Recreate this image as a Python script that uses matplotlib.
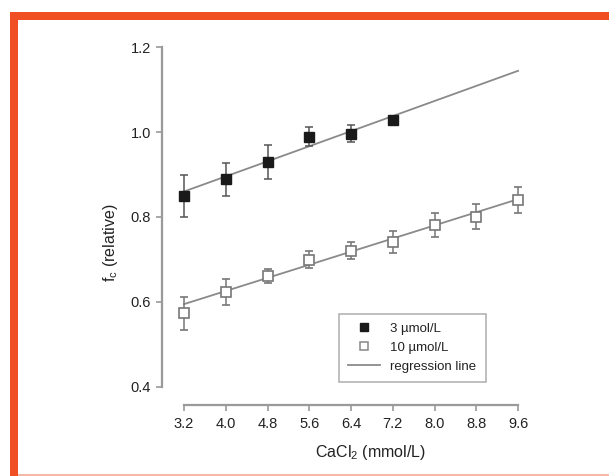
import matplotlib
matplotlib.use("Agg")
import matplotlib.pyplot as plt
from matplotlib.patches import Rectangle
from matplotlib.lines import Line2D

plt.rcParams['font.family'] = ['Liberation Sans', 'DejaVu Sans']

# Data
cacl2 = [3.2, 4.0, 4.8, 5.6, 6.4, 7.2, 8.0, 8.8, 9.6]
x_3 = [3.2, 4.0, 4.8, 5.6, 6.4, 7.2]
fc_3 = [0.85, 0.889, 0.93, 0.989, 0.996, 1.029]
err_3 = [0.05, 0.039, 0.04, 0.022, 0.02, 0.005]
x_10 = [3.2, 4.0, 4.8, 5.6, 6.4, 7.2, 8.0, 8.8, 9.6]
fc_10 = [0.573, 0.623, 0.661, 0.699, 0.720, 0.742, 0.781, 0.801, 0.840]
err_10 = [0.039, 0.03, 0.017, 0.02, 0.02, 0.026, 0.028, 0.03, 0.031]
reg_x = [3.2, 9.6]
reg_3 = [0.860, 1.144]
reg_10 = [0.595, 0.842]
xticks = [3.2, 4.0, 4.8, 5.6, 6.4, 7.2, 8.0, 8.8, 9.6]
xticklabels = ['3.2', '4.0', '4.8', '5.6', '6.4', '7.2', '8.0', '8.8', '9.6']
yticks = [0.4, 0.6, 0.8, 1.0, 1.2]
yticklabels = ['0.4', '0.6', '0.8', '1.0', '1.2']

W, H = 609, 476
fig = plt.figure(figsize=(W / 100, H / 100), dpi=100)
fig.patch.set_facecolor('white')

# Orange frame
orange = '#F04E23'
fig.patches.append(Rectangle((10 / W, 0), 8 / W, (H - 12) / H, transform=fig.transFigure,
                             facecolor=orange, edgecolor='none', zorder=0))
fig.patches.append(Rectangle((10 / W, (H - 20) / H), (W - 10) / W, 8 / H, transform=fig.transFigure,
                             facecolor=orange, edgecolor='none', zorder=0))
fig.patches.append(Rectangle((18 / W, 0), (W - 18) / W, 2 / H, transform=fig.transFigure,
                             facecolor='#F6B9A6', edgecolor='none', zorder=0))

ax = fig.add_axes([162 / W, 71 / H, 378 / W, 365 / H])
ax.set_facecolor('none')
ax.set_xlim(2.778, 10.02)
ax.set_ylim(0.3576, 1.2165)

axcol = '#9a9a9a'
for s in ['top', 'right']:
    ax.spines[s].set_visible(False)
ax.spines['left'].set_bounds(0.4, 1.2)
ax.spines['bottom'].set_bounds(3.2, 9.6)
for s in ['left', 'bottom']:
    ax.spines[s].set_color(axcol)
    ax.spines[s].set_linewidth(1.6)
ax.tick_params(axis='both', colors=axcol, length=4, width=1.2, labelcolor='#222222',
               labelsize=10.5)
ax.tick_params(axis='x', pad=5)
ax.tick_params(axis='y', pad=4)
ax.set_xticks(xticks)
ax.set_xticklabels(xticklabels)
ax.set_yticks(yticks)
ax.set_yticklabels(yticklabels)

linecol = '#8a8a8a'
ax.plot(reg_x, reg_3, color=linecol, lw=1.3, zorder=2)
ax.plot(reg_x, reg_10, color=linecol, lw=1.3, zorder=2)

ax.errorbar(x_3, fc_3, yerr=err_3, fmt='s', color='#1a1a1a', ecolor='#555555',
            ms=7, elinewidth=1.1, capsize=3, capthick=1.1, zorder=3)
ax.errorbar(x_10, fc_10, yerr=err_10, fmt='s', mfc='white', mec='#777777', mew=1.2,
            ecolor='#777777', ms=7, elinewidth=1.1, capsize=3, capthick=1.1, zorder=3)

handles = [
    Line2D([], [], marker='s', ls='none', color='#1a1a1a', ms=6),
    Line2D([], [], marker='s', ls='none', mfc='white', mec='#888888', mew=1.1, ms=6),
    Line2D([], [], color=linecol, lw=1.3),
]
leg = ax.legend(handles, ['3 µmol/L', '10 µmol/L', 'regression line'],
                loc='lower left', bbox_to_anchor=(0.468, 0.063), borderaxespad=0,
                fontsize=9.5, frameon=True, fancybox=False, handlelength=2.4,
                handletextpad=0.8, labelspacing=0.5, borderpad=0.7)
leg.get_frame().set_edgecolor('#999999')
leg.get_frame().set_linewidth(1.1)
for t in leg.get_texts():
    t.set_color('#222222')

fig.text(370 / W, (H - 452) / H, r'CaCl$_\mathregular{2}$ (mmol/L)', ha='center', va='center',
         fontsize=11.5, color='#222222')
fig.text(110 / W, (H - 243) / H, r'f$_\mathregular{c}$ (relative)', ha='center', va='center',
         rotation=90, fontsize=11.5, color='#222222')

fig.savefig('out.png', dpi=100)
